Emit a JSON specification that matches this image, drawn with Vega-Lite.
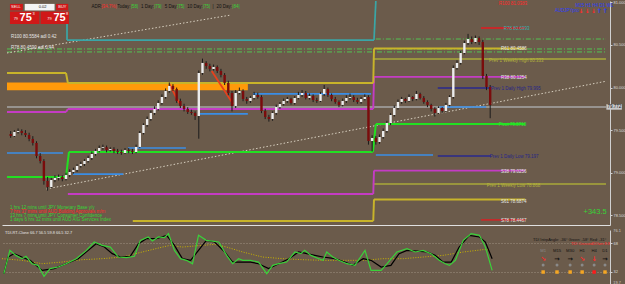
{
"$schema":"https://vega.github.io/schema/vega-lite/v6.json",
"background":"#6b5b4b",
"padding":0,
"spacing":4,
"config":{"view":{"stroke":null},
 "axis":{"title":null,"grid":false,"labelFont":"Liberation Sans","labelColor":"#dcdcdc","labelFontSize":4,"tickColor":"#d0d0d0","domainColor":"#d0d0d0","tickSize":2,"labelPadding":1},
 "axisX":{"labels":false,"ticks":false},
 "text":{"font":"Liberation Sans"}},
"datasets":{
"candles":[
{"i":1,"o":79.455,"h":79.49,"l":79.41,"c":79.432},{"i":2,"o":79.432,"h":79.5,"l":79.42,"c":79.479},{"i":3,"o":79.479,"h":79.52,"l":79.46,"c":79.49},{"i":4,"o":79.49,"h":79.51,"l":79.44,"c":79.467},{"i":5,"o":79.467,"h":79.5,"l":79.42,"c":79.443},{"i":6,"o":79.443,"h":79.47,"l":79.37,"c":79.397},{"i":7,"o":79.397,"h":79.43,"l":79.32,"c":79.35},{"i":8,"o":79.35,"h":79.37,"l":79.17,"c":79.197},{"i":9,"o":79.197,"h":79.23,"l":79.11,"c":79.138},{"i":10,"o":79.138,"h":79.16,"l":78.86,"c":78.904},
{"i":11,"o":78.904,"h":78.95,"l":78.79,"c":78.833},{"i":12,"o":78.833,"h":78.94,"l":78.82,"c":78.915},{"i":13,"o":78.915,"h":78.97,"l":78.89,"c":78.939},{"i":14,"o":78.939,"h":78.98,"l":78.91,"c":78.951},{"i":15,"o":78.951,"h":78.97,"l":78.9,"c":78.927},{"i":16,"o":78.927,"h":79.0,"l":78.91,"c":78.974},{"i":17,"o":78.974,"h":79.04,"l":78.95,"c":79.009},{"i":18,"o":79.009,"h":79.06,"l":78.99,"c":79.033},{"i":19,"o":79.033,"h":79.1,"l":79.01,"c":79.08},{"i":20,"o":79.08,"h":79.13,"l":79.06,"c":79.103},
{"i":21,"o":79.103,"h":79.16,"l":79.08,"c":79.138},{"i":22,"o":79.138,"h":79.2,"l":79.12,"c":79.173},{"i":23,"o":79.173,"h":79.25,"l":79.15,"c":79.22},{"i":24,"o":79.22,"h":79.28,"l":79.2,"c":79.256},{"i":25,"o":79.256,"h":79.32,"l":79.24,"c":79.291},{"i":26,"o":79.291,"h":79.33,"l":79.27,"c":79.3},{"i":27,"o":79.3,"h":79.32,"l":79.24,"c":79.267},{"i":28,"o":79.267,"h":79.3,"l":79.25,"c":79.279},{"i":29,"o":79.279,"h":79.3,"l":79.23,"c":79.256},{"i":30,"o":79.256,"h":79.28,"l":79.22,"c":79.244},
{"i":31,"o":79.244,"h":79.27,"l":79.21,"c":79.232},{"i":32,"o":79.232,"h":79.29,"l":79.22,"c":79.267},{"i":33,"o":79.267,"h":79.29,"l":79.23,"c":79.256},{"i":34,"o":79.256,"h":79.28,"l":79.22,"c":79.244},{"i":35,"o":79.244,"h":79.33,"l":79.23,"c":79.303},{"i":36,"o":79.303,"h":79.49,"l":79.29,"c":79.467},{"i":37,"o":79.467,"h":79.58,"l":79.45,"c":79.561},{"i":38,"o":79.561,"h":79.66,"l":79.54,"c":79.631},{"i":39,"o":79.631,"h":79.73,"l":79.61,"c":79.702},{"i":40,"o":79.702,"h":79.78,"l":79.68,"c":79.749},
{"i":41,"o":79.749,"h":79.85,"l":79.73,"c":79.819},{"i":42,"o":79.819,"h":79.92,"l":79.8,"c":79.889},{"i":43,"o":79.889,"h":79.99,"l":79.87,"c":79.96},{"i":44,"o":79.96,"h":80.06,"l":79.94,"c":80.019},{"i":45,"o":80.019,"h":80.04,"l":79.96,"c":79.983},{"i":46,"o":79.983,"h":80.0,"l":79.82,"c":79.843},{"i":47,"o":79.843,"h":79.87,"l":79.76,"c":79.784},{"i":48,"o":79.784,"h":79.81,"l":79.72,"c":79.749},{"i":49,"o":79.749,"h":79.77,"l":79.69,"c":79.713},{"i":50,"o":79.713,"h":79.74,"l":79.68,"c":79.702},
{"i":51,"o":79.702,"h":79.72,"l":79.62,"c":79.666},{"i":52,"o":79.666,"h":80.2,"l":79.4,"c":80.171},{"i":53,"o":80.171,"h":80.34,"l":80.15,"c":80.289},{"i":54,"o":80.289,"h":80.31,"l":80.22,"c":80.253},{"i":55,"o":80.253,"h":80.28,"l":80.19,"c":80.218},{"i":56,"o":80.218,"h":80.27,"l":80.2,"c":80.242},{"i":57,"o":80.242,"h":80.26,"l":80.17,"c":80.195},{"i":58,"o":80.195,"h":80.22,"l":80.12,"c":80.148},{"i":59,"o":80.148,"h":80.17,"l":80.03,"c":80.054},{"i":60,"o":80.054,"h":80.08,"l":79.91,"c":79.936},
{"i":61,"o":79.936,"h":79.96,"l":79.72,"c":79.784},{"i":62,"o":79.784,"h":79.97,"l":79.76,"c":79.936},{"i":63,"o":79.936,"h":80.0,"l":79.92,"c":79.96},{"i":64,"o":79.96,"h":79.98,"l":79.84,"c":79.866},{"i":65,"o":79.866,"h":79.89,"l":79.81,"c":79.843},{"i":66,"o":79.843,"h":79.9,"l":79.82,"c":79.878},{"i":67,"o":79.878,"h":79.95,"l":79.86,"c":79.913},{"i":68,"o":79.913,"h":79.94,"l":79.87,"c":79.889},{"i":69,"o":79.889,"h":79.91,"l":79.7,"c":79.725},{"i":70,"o":79.725,"h":79.75,"l":79.63,"c":79.655},
{"i":71,"o":79.655,"h":79.68,"l":79.6,"c":79.631},{"i":72,"o":79.631,"h":79.72,"l":79.61,"c":79.702},{"i":73,"o":79.702,"h":79.8,"l":79.68,"c":79.772},{"i":74,"o":79.772,"h":79.83,"l":79.75,"c":79.807},{"i":75,"o":79.807,"h":79.87,"l":79.79,"c":79.843},{"i":76,"o":79.843,"h":79.89,"l":79.82,"c":79.866},{"i":77,"o":79.866,"h":79.88,"l":79.8,"c":79.819},{"i":78,"o":79.819,"h":79.9,"l":79.8,"c":79.878},{"i":79,"o":79.878,"h":79.95,"l":79.86,"c":79.913},{"i":80,"o":79.913,"h":79.97,"l":79.89,"c":79.936},
{"i":81,"o":79.936,"h":79.96,"l":79.86,"c":79.878},{"i":82,"o":79.878,"h":79.93,"l":79.86,"c":79.901},{"i":83,"o":79.901,"h":79.92,"l":79.83,"c":79.854},{"i":84,"o":79.854,"h":79.88,"l":79.82,"c":79.843},{"i":85,"o":79.843,"h":79.95,"l":79.83,"c":79.925},{"i":86,"o":79.925,"h":80.03,"l":79.9,"c":79.983},{"i":87,"o":79.983,"h":80.0,"l":79.89,"c":79.913},{"i":88,"o":79.913,"h":79.93,"l":79.84,"c":79.866},{"i":89,"o":79.866,"h":79.89,"l":79.81,"c":79.831},{"i":90,"o":79.831,"h":79.85,"l":79.77,"c":79.796},
{"i":91,"o":79.796,"h":79.87,"l":79.78,"c":79.843},{"i":92,"o":79.843,"h":79.91,"l":79.82,"c":79.878},{"i":93,"o":79.878,"h":79.93,"l":79.86,"c":79.889},{"i":94,"o":79.889,"h":79.91,"l":79.83,"c":79.854},{"i":95,"o":79.854,"h":79.88,"l":79.81,"c":79.831},{"i":96,"o":79.831,"h":79.89,"l":79.81,"c":79.866},{"i":97,"o":79.866,"h":79.92,"l":79.85,"c":79.889},{"i":98,"o":79.889,"h":79.91,"l":79.33,"c":79.373},{"i":99,"o":79.373,"h":79.44,"l":79.25,"c":79.408},{"i":100,"o":79.408,"h":79.43,"l":79.33,"c":79.361},
{"i":101,"o":79.361,"h":79.45,"l":79.34,"c":79.42},{"i":102,"o":79.42,"h":79.52,"l":79.4,"c":79.49},{"i":103,"o":79.49,"h":79.61,"l":79.47,"c":79.584},{"i":104,"o":79.584,"h":79.7,"l":79.56,"c":79.678},{"i":105,"o":79.678,"h":79.79,"l":79.66,"c":79.76},{"i":106,"o":79.76,"h":79.86,"l":79.74,"c":79.831},{"i":107,"o":79.831,"h":79.89,"l":79.81,"c":79.866},{"i":108,"o":79.866,"h":79.88,"l":79.82,"c":79.843},{"i":109,"o":79.843,"h":79.92,"l":79.83,"c":79.889},{"i":110,"o":79.889,"h":79.9,"l":79.84,"c":79.866},
{"i":111,"o":79.866,"h":79.96,"l":79.85,"c":79.925},{"i":112,"o":79.925,"h":79.94,"l":79.86,"c":79.878},{"i":113,"o":79.878,"h":79.9,"l":79.81,"c":79.831},{"i":114,"o":79.831,"h":79.85,"l":79.77,"c":79.796},{"i":115,"o":79.796,"h":79.81,"l":79.72,"c":79.749},{"i":116,"o":79.749,"h":79.77,"l":79.66,"c":79.702},{"i":117,"o":79.702,"h":79.78,"l":79.69,"c":79.76},{"i":118,"o":79.76,"h":79.77,"l":79.7,"c":79.725},{"i":119,"o":79.725,"h":79.82,"l":79.71,"c":79.796},{"i":120,"o":79.796,"h":79.91,"l":79.78,"c":79.889},
{"i":121,"o":79.889,"h":80.26,"l":79.87,"c":80.23},{"i":122,"o":80.23,"h":80.32,"l":80.21,"c":80.289},{"i":123,"o":80.289,"h":80.43,"l":80.27,"c":80.406},{"i":124,"o":80.406,"h":80.55,"l":80.39,"c":80.523},{"i":125,"o":80.523,"h":80.63,"l":80.5,"c":80.57},{"i":126,"o":80.57,"h":80.6,"l":80.51,"c":80.535},{"i":127,"o":80.535,"h":80.61,"l":80.52,"c":80.582},{"i":128,"o":80.582,"h":80.6,"l":80.5,"c":80.535},{"i":129,"o":80.535,"h":80.56,"l":80.1,"c":80.136},{"i":130,"o":80.136,"h":80.16,"l":79.97,"c":80.007},
{"i":131,"o":80.007,"h":80.03,"l":79.64,"c":79.796}],
"band":[{"x":0,"x2":65.3,"y":80.058,"y2":79.968}],
"dash":[{"x":0,"x2":162.4,"y":80.453},{"x":0,"x2":162.4,"y":80.418},{"x":100,"x2":162.4,"y":80.57}],
"trend":[{"x":0,"x2":60.8,"y":80.406,"y2":80.852},{"x":10.7,"x2":162.4,"y":78.81,"y2":80.074}],
"segs":[
{"s":"grey","x":0,"x2":162.4,"y":79.772,"y2":79.772},
{"s":"olive","x":99.2,"x2":162.4,"y":80.335,"y2":80.335},
{"s":"olive","x":99.2,"x2":162.4,"y":78.868,"y2":78.868},
{"s":"blue","x":0,"x2":15.2,"y":79.232,"y2":79.232},
{"s":"blue","x":17.9,"x2":31.5,"y":78.985,"y2":78.985},
{"s":"blue","x":32.8,"x2":48.5,"y":79.291,"y2":79.291},
{"s":"blue","x":52,"x2":65.3,"y":79.692,"y2":79.692},
{"s":"blue","x":66.7,"x2":98.7,"y":79.925,"y2":79.925},
{"s":"blue","x":100,"x2":115.5,"y":79.209,"y2":79.209},
{"s":"blue","x":117.3,"x2":129.9,"y":79.772,"y2":79.772},
{"s":"navy","x":116.8,"x2":131.2,"y":79.995,"y2":79.995},
{"s":"navy","x":116.8,"x2":131.2,"y":79.197,"y2":79.197},
{"s":"teal","x":16.27,"x2":16.27,"y":80.746,"y2":80.558},
{"s":"teal","x":16.27,"x2":99.5,"y":80.558,"y2":80.558},
{"s":"teal","x":99.5,"x2":100,"y":80.558,"y2":81.016},
{"s":"mag","x":0,"x2":16,"y":79.713,"y2":79.713},
{"s":"mag","x":16,"x2":16.5,"y":79.713,"y2":79.749},
{"s":"mag","x":16.5,"x2":99.3,"y":79.749,"y2":79.749},
{"s":"mag","x":99.3,"x2":99.5,"y":79.749,"y2":80.1254},
{"s":"mag","x":99.5,"x2":140.5,"y":80.1254,"y2":80.1254},
{"s":"mag","x":16.5,"x2":99.3,"y":78.751,"y2":78.751},
{"s":"mag","x":99.3,"x2":99.5,"y":78.751,"y2":79.0256},
{"s":"mag","x":99.5,"x2":140.5,"y":79.0256,"y2":79.0256},
{"s":"yel","x":0,"x2":16,"y":80.171,"y2":80.171},
{"s":"yel","x":16,"x2":16.5,"y":80.171,"y2":80.054},
{"s":"yel","x":16.5,"x2":99.3,"y":80.054,"y2":80.054},
{"s":"yel","x":99.3,"x2":99.5,"y":80.054,"y2":80.4586},
{"s":"yel","x":99.5,"x2":140.5,"y":80.4586,"y2":80.4586},
{"s":"yel","x":34.1,"x2":99.3,"y":78.434,"y2":78.434},
{"s":"yel","x":99.3,"x2":99.5,"y":78.434,"y2":78.6874},
{"s":"yel","x":99.5,"x2":140.5,"y":78.6874,"y2":78.6874},
{"s":"red","x":128.5,"x2":140.5,"y":80.6993,"y2":80.6993},
{"s":"red","x":128.5,"x2":140.5,"y":78.4467,"y2":78.4467},
{"s":"rtr","x":55.5,"x2":61.3,"y":80.195,"y2":79.808},
{"s":"rtr","x":44,"x2":46.7,"y":80.042,"y2":79.819},
{"s":"piv","x":0,"x2":16,"y":78.951,"y2":78.951},
{"s":"piv","x":16,"x2":16.8,"y":78.951,"y2":79.244},
{"s":"piv","x":16.8,"x2":99.2,"y":79.244,"y2":79.244},
{"s":"piv","x":99.2,"x2":100,"y":79.244,"y2":79.571},
{"s":"piv","x":100,"x2":140.5,"y":79.571,"y2":79.571}],
"lvl":[
{"x":133.3,"y":80.985,"t":"R100 81.0383","k":"r"},
{"x":134.7,"y":80.688,"t":"R78 80.6993","k":"teal"},
{"x":133.9,"y":80.447,"t":"R61 80.4586","k":"w"},
{"x":130.7,"y":80.312,"t":"Prev 1 Weekly High 80.333","k":"olive"},
{"x":133.9,"y":80.112,"t":"R38 80.1254","k":"w"},
{"x":131.2,"y":79.983,"t":"Prev 1 Daily High 79.995","k":"navy"},
{"x":133.3,"y":79.561,"t":"Pivot 79.5710","k":"piv"},
{"x":130.9,"y":79.185,"t":"Prev 1 Daily Low 79.197","k":"navy"},
{"x":133.9,"y":79.009,"t":"S38 79.0256","k":"w"},
{"x":130.1,"y":78.845,"t":"Prev 1 Weekly Low 78.868","k":"olive"},
{"x":133.9,"y":78.657,"t":"S61 78.6874","k":"w"},
{"x":133.9,"y":78.434,"t":"S78 78.4467","k":"w"},
{"x":1.1,"y":80.594,"t":"R100 80.5584 adl 0.42","k":"w"},
{"x":1.1,"y":80.465,"t":"R78 80.4590 adl 0.44","k":"w"},
{"x":22.9,"y":80.946,"t":"ADR:","k":"blk"},
{"x":25.6,"y":80.946,"t":"|34.7%|","k":"r"},
{"x":29.9,"y":80.946,"t":"Today:","k":"blk"},
{"x":33.6,"y":80.946,"t":"|58|","k":"g"},
{"x":36.3,"y":80.946,"t":"1 Day:","k":"blk"},
{"x":39.9,"y":80.946,"t":"|79|","k":"g"},
{"x":42.8,"y":80.946,"t":"5 Day:","k":"blk"},
{"x":46.1,"y":80.946,"t":"|75|","k":"g"},
{"x":48.9,"y":80.946,"t":"10 Day:","k":"blk"},
{"x":53.1,"y":80.946,"t":"|75|","k":"g"},
{"x":55.7,"y":80.946,"t":"|","k":"blk"},
{"x":56.8,"y":80.946,"t":"20 Day:","k":"blk"},
{"x":61.1,"y":80.946,"t":"|84|","k":"g"},
{"x":154.1,"y":80.962,"t":"M15 H1 H4 D1 W1","k":"db"},
{"x":148.6,"y":80.895,"t":"AUDJPYpro","k":"db"},
{"x":0.8,"y":78.587,"t":"1 hrs 12 mins until JPY Monetary Base y/y","k":"g"},
{"x":0.8,"y":78.534,"t":"7 hrs 37 mins until AUD Building Approvals m/m","k":"r"},
{"x":0.8,"y":78.487,"t":"13 hrs 7 mins until JPY Consumer Confidence","k":"g"},
{"x":0.8,"y":78.44,"t":"1 days 6 hrs 32 mins until AUD AIG Services Index","k":"g"},
{"x":162.8,"y":79.772,"t":"79.772","k":"blk"}],
"arrows":[{"x":155.6,"y":80.897,"t":"↓","k":"r"},{"x":157.3,"y":80.897,"t":"↓","k":"r"},{"x":159.0,"y":80.897,"t":"↓","k":"r"},{"x":160.6,"y":80.897,"t":"↑","k":"db"},{"x":162.2,"y":80.897,"t":"↑","k":"db"}],
"boxes":[
{"x":0.8,"x2":4.3,"y":80.982,"y2":80.905,"k":"wr"},
{"x":4.8,"x2":12.9,"y":80.982,"y2":80.905,"k":"wb"},
{"x":13.3,"x2":16.6,"y":80.982,"y2":80.905,"k":"wr"},
{"x":0.8,"x2":8.8,"y":80.893,"y2":80.746,"k":"wr"},
{"x":9.1,"x2":16.8,"y":80.893,"y2":80.746,"k":"wr"},
{"x":162.5,"x2":166.7,"y":79.805,"y2":79.74,"k":"lg"}],
"wsmall":[{"x":1.1,"y":80.944,"t":"SELL","k":"w"},{"x":8.6,"y":80.944,"t":"0.02","k":"blk"},{"x":13.9,"y":80.944,"t":"BUY","k":"w"},{"x":1.8,"y":80.8,"t":"79","k":"w"},{"x":10.9,"y":80.8,"t":"79","k":"w"},{"x":6.9,"y":80.862,"t":"3","k":"w"},{"x":16.0,"y":80.862,"t":"8","k":"w"}],
"wbig":[{"x":3.4,"y":80.817,"t":"75"},{"x":12.6,"y":80.817,"t":"75"}],
"pnl":[{"x":156.3,"y":78.54,"t":"+343.5"}],
"tdi":[
{"i":0.5,"v":29.4,"s":"g"},{"i":2.1,"v":59.1,"s":"g"},{"i":3.7,"v":52.7,"s":"g"},{"i":5.3,"v":48.5,"s":"g"},{"i":6.4,"v":51.5,"s":"g"},{"i":8.0,"v":42.1,"s":"g"},{"i":9.6,"v":40.0,"s":"g"},{"i":11.2,"v":26.0,"s":"g"},{"i":12.8,"v":35.8,"s":"g"},{"i":15.0,"v":37.9,"s":"g"},{"i":17.1,"v":42.1,"s":"g"},{"i":19.8,"v":48.5,"s":"g"},{"i":22.5,"v":59.1,"s":"g"},{"i":24.6,"v":69.7,"s":"g"},{"i":26.7,"v":65.5,"s":"g"},{"i":28.9,"v":63.3,"s":"g"},{"i":31.0,"v":50.6,"s":"g"},{"i":33.2,"v":49.8,"s":"g"},{"i":35.3,"v":51.5,"s":"g"},{"i":36.9,"v":71.8,"s":"g"},{"i":39.0,"v":76.1,"s":"g"},{"i":40.1,"v":71.0,"s":"g"},{"i":41.7,"v":76.1,"s":"g"},{"i":43.3,"v":75.2,"s":"g"},{"i":44.4,"v":80.3,"s":"g"},{"i":46.0,"v":59.1,"s":"g"},{"i":47.6,"v":48.5,"s":"g"},{"i":49.2,"v":46.4,"s":"g"},{"i":50.8,"v":42.1,"s":"g"},{"i":52.4,"v":78.2,"s":"g"},{"i":54.5,"v":71.8,"s":"g"},{"i":57.8,"v":69.7,"s":"g"},{"i":59.9,"v":52.7,"s":"g"},{"i":61.5,"v":42.1,"s":"g"},{"i":63.1,"v":48.5,"s":"g"},{"i":64.2,"v":46.4,"s":"g"},{"i":66.3,"v":46.4,"s":"g"},{"i":68.4,"v":44.2,"s":"g"},{"i":70.6,"v":29.4,"s":"g"},{"i":72.2,"v":40.0,"s":"g"},{"i":73.8,"v":42.1,"s":"g"},{"i":75.9,"v":44.2,"s":"g"},{"i":78.1,"v":57.0,"s":"g"},{"i":79.7,"v":54.9,"s":"g"},{"i":80.7,"v":59.1,"s":"g"},{"i":82.4,"v":52.7,"s":"g"},{"i":84.5,"v":48.5,"s":"g"},{"i":85.6,"v":46.4,"s":"g"},{"i":86.6,"v":57.0,"s":"g"},{"i":88.2,"v":50.6,"s":"g"},{"i":89.8,"v":46.4,"s":"g"},{"i":92.0,"v":42.1,"s":"g"},{"i":94.1,"v":40.0,"s":"g"},{"i":96.8,"v":59.1,"s":"g"},{"i":98.4,"v":33.6,"s":"g"},{"i":101.1,"v":33.6,"s":"g"},{"i":102.7,"v":42.1,"s":"g"},{"i":105.3,"v":57.0,"s":"g"},{"i":108.0,"v":61.2,"s":"g"},{"i":110.2,"v":57.0,"s":"g"},{"i":112.3,"v":59.1,"s":"g"},{"i":114.4,"v":54.9,"s":"g"},{"i":116.6,"v":46.4,"s":"g"},{"i":118.2,"v":42.1,"s":"g"},{"i":119.3,"v":40.0,"s":"g"},{"i":120.9,"v":46.4,"s":"g"},{"i":123.0,"v":71.8,"s":"g"},{"i":125.1,"v":80.3,"s":"g"},{"i":127.3,"v":78.2,"s":"g"},{"i":128.9,"v":63.3,"s":"g"},{"i":130.7,"v":33.6,"s":"g"},
{"i":0.5,"v":29.4,"s":"b"},{"i":1.6,"v":50.6,"s":"b"},{"i":3.2,"v":54.9,"s":"b"},{"i":5.3,"v":50.6,"s":"b"},{"i":7.5,"v":46.4,"s":"b"},{"i":10.7,"v":33.6,"s":"b"},{"i":13.9,"v":35.8,"s":"b"},{"i":17.1,"v":42.1,"s":"b"},{"i":20.3,"v":48.5,"s":"b"},{"i":23.0,"v":59.1,"s":"b"},{"i":25.1,"v":67.6,"s":"b"},{"i":27.3,"v":63.3,"s":"b"},{"i":29.4,"v":54.9,"s":"b"},{"i":31.6,"v":50.6,"s":"b"},{"i":34.2,"v":51.5,"s":"b"},{"i":36.4,"v":67.6,"s":"b"},{"i":38.5,"v":74.0,"s":"b"},{"i":41.2,"v":74.0,"s":"b"},{"i":43.9,"v":78.2,"s":"b"},{"i":46.0,"v":65.5,"s":"b"},{"i":48.1,"v":48.5,"s":"b"},{"i":50.3,"v":46.4,"s":"b"},{"i":52.4,"v":59.1,"s":"b"},{"i":54.5,"v":71.8,"s":"b"},{"i":56.7,"v":69.7,"s":"b"},{"i":59.4,"v":57.0,"s":"b"},{"i":61.5,"v":44.2,"s":"b"},{"i":64.2,"v":44.2,"s":"b"},{"i":66.3,"v":44.2,"s":"b"},{"i":68.4,"v":42.1,"s":"b"},{"i":71.1,"v":35.8,"s":"b"},{"i":73.8,"v":42.1,"s":"b"},{"i":76.5,"v":48.5,"s":"b"},{"i":79.1,"v":57.0,"s":"b"},{"i":81.3,"v":54.9,"s":"b"},{"i":83.4,"v":52.7,"s":"b"},{"i":85.6,"v":50.6,"s":"b"},{"i":88.8,"v":48.5,"s":"b"},{"i":91.4,"v":44.2,"s":"b"},{"i":93.6,"v":40.0,"s":"b"},{"i":96.3,"v":48.5,"s":"b"},{"i":98.4,"v":46.4,"s":"b"},{"i":101.1,"v":37.9,"s":"b"},{"i":103.7,"v":40.0,"s":"b"},{"i":105.9,"v":54.9,"s":"b"},{"i":108.0,"v":59.1,"s":"b"},{"i":110.7,"v":58.2,"s":"b"},{"i":113.4,"v":57.0,"s":"b"},{"i":115.5,"v":52.7,"s":"b"},{"i":117.6,"v":44.2,"s":"b"},{"i":119.8,"v":44.2,"s":"b"},{"i":121.9,"v":63.3,"s":"b"},{"i":124.6,"v":78.2,"s":"b"},{"i":127.3,"v":76.1,"s":"b"},{"i":128.9,"v":69.7,"s":"b"},{"i":130.7,"v":48.5,"s":"b"},
{"i":0,"v":48.5,"s":"y"},{"i":5.3,"v":46.4,"s":"y"},{"i":10.7,"v":42.1,"s":"y"},{"i":16.0,"v":44.2,"s":"y"},{"i":21.4,"v":47.2,"s":"y"},{"i":26.7,"v":48.5,"s":"y"},{"i":32.1,"v":50.6,"s":"y"},{"i":37.4,"v":57.0,"s":"y"},{"i":42.8,"v":63.3,"s":"y"},{"i":44.9,"v":65.5,"s":"y"},{"i":48.1,"v":63.3,"s":"y"},{"i":53.5,"v":65.5,"s":"y"},{"i":56.7,"v":66.7,"s":"y"},{"i":59.9,"v":63.3,"s":"y"},{"i":64.2,"v":57.0,"s":"y"},{"i":69.5,"v":50.6,"s":"y"},{"i":74.9,"v":48.5,"s":"y"},{"i":80.2,"v":47.2,"s":"y"},{"i":85.6,"v":46.4,"s":"y"},{"i":90.9,"v":46.4,"s":"y"},{"i":96.3,"v":46.4,"s":"y"},{"i":101.6,"v":48.5,"s":"y"},{"i":107.0,"v":48.5,"s":"y"},{"i":112.3,"v":50.6,"s":"y"},{"i":117.6,"v":52.7,"s":"y"},{"i":123.0,"v":57.0,"s":"y"},{"i":128.3,"v":60.0,"s":"y"},{"i":130.0,"v":60.0,"s":"y"}],
"ltxt":[
{"x":0.8,"y":81.2,"t":"TDI-RT-Clone 66.7 56.5 59.8 66.5 32.7","k":"w"},
{"x":141.6,"y":72.3,"t":"TDI IntrpAngle: -36° Green: -58° Red: -31°","k":"blk"},
{"x":151.7,"y":67.2,"t":"TDI CrossedDOwn 8.8","k":"r"},
{"x":163.0,"y":83.5,"t":"76.1","k":"lg"},
{"x":163.0,"y":17.5,"t":"19.7","k":"lg"}],
"dlab":[{"x":144.3,"y":58.3,"t":"M1","k":"dg"},{"x":148,"y":58.3,"t":"M15","k":"blk"},{"x":151.5,"y":58.3,"t":"M30","k":"blk"},{"x":154.7,"y":58.3,"t":"H1","k":"blk"},{"x":157.9,"y":58.3,"t":"H4","k":"blk"},{"x":160.8,"y":58.3,"t":"D1","k":"blk"}],
"darr":[{"x":144.3,"y":48.1,"t":"↘","k":"r"},{"x":148,"y":48.1,"t":"→","k":"blk"},{"x":151.5,"y":48.1,"t":"→","k":"blk"},{"x":154.7,"y":48.1,"t":"↘","k":"r"},{"x":157.9,"y":48.1,"t":"↓","k":"r"},{"x":160.8,"y":48.1,"t":"→","k":"blk"}],
"dcirc":[{"x":144.3,"y":40.4,"k":"dg"},{"x":148,"y":40.4,"k":"dg"},{"x":151.5,"y":40.4,"k":"dg"},{"x":154.7,"y":40.4,"k":"dg"},{"x":157.9,"y":40.4,"k":"dg"},{"x":160.8,"y":40.4,"k":"dg"}],
"dsq":[{"x":144.3,"y":31.5,"k":"or"},{"x":148,"y":31.5,"k":"or"},{"x":151.5,"y":31.5,"k":"or"},{"x":154.7,"y":31.5,"k":"or"},{"x":157.9,"y":31.5,"k":"r"},{"x":160.8,"y":31.5,"k":"or"}]
},
"vconcat":[
{"width":608,"height":224,
 "resolve":{"scale":{"color":"independent"}},
 "layer":[
  {"data":{"name":"band"},"mark":{"type":"rect","color":"#ff9a0a"},
   "encoding":{"x":{"field":"x","type":"quantitative","scale":{"domain":[0,162.13],"nice":false,"zero":false},"axis":{"orient":"bottom","labels":false,"ticks":false,"domainColor":"#e0e0e0"}},"x2":{"field":"x2"},
    "y":{"field":"y","type":"quantitative","scale":{"domain":[78.387,81.016],"nice":false,"zero":false},"axis":{"orient":"right","format":".3f","values":[78.5,78.625,78.75,78.875,79,79.125,79.25,79.375,79.5,79.625,79.75,79.875,80,80.125,80.25,80.375,80.5,80.625,80.75,80.875,81]}},"y2":{"field":"y2"}}},
  {"data":{"name":"dash"},"mark":{"type":"rule","color":"#52c452","strokeDash":[5,2,1,2],"strokeWidth":1},
   "encoding":{"x":{"field":"x","type":"quantitative"},"x2":{"field":"x2"},"y":{"field":"y","type":"quantitative"}}},
  {"data":{"name":"trend"},"mark":{"type":"rule","color":"#d8d0c0","strokeDash":[1.5,2],"strokeWidth":1},
   "encoding":{"x":{"field":"x","type":"quantitative"},"x2":{"field":"x2"},"y":{"field":"y","type":"quantitative"},"y2":{"field":"y2"}}},
  {"data":{"name":"segs"},"mark":{"type":"rule"},
   "encoding":{"x":{"field":"x","type":"quantitative"},"x2":{"field":"x2"},"y":{"field":"y","type":"quantitative"},"y2":{"field":"y2"},
    "color":{"field":"s","type":"nominal","legend":null,"scale":{"domain":["piv","yel","mag","red","rtr","teal","blue","navy","olive","grey"],"range":["#22e022","#c8b42a","#c43cc4","#c42a2a","#e8401c","#3aa6a6","#3a8ee6","#28288c","#a8a838","#a6a6a6"]}},
    "strokeWidth":{"field":"s","type":"nominal","legend":null,"scale":{"domain":["piv","yel","mag","red","rtr","teal","blue","navy","olive","grey"],"range":[2,1.5,1,1,1,1,1.3,1,1,1]}}}},
  {"data":{"name":"candles"},"mark":{"type":"rule","color":"#1c1c1c","strokeWidth":1},
   "encoding":{"x":{"field":"i","type":"quantitative"},"y":{"field":"l","type":"quantitative"},"y2":{"field":"h"}}},
  {"data":{"name":"candles"},"mark":{"type":"bar","width":2.4},
   "encoding":{"x":{"field":"i","type":"quantitative"},"y":{"field":"o","type":"quantitative"},"y2":{"field":"c"},
    "color":{"condition":{"test":"datum.c >= datum.o","value":"#ececec"},"value":"#7a0c0c"}}},
  {"data":{"name":"boxes"},"mark":{"type":"rect"},
   "encoding":{"x":{"field":"x","type":"quantitative"},"x2":{"field":"x2"},"y":{"field":"y","type":"quantitative"},"y2":{"field":"y2"},
    "color":{"field":"k","type":"nominal","legend":null,"scale":{"domain":["wr","wb","lg"],"range":["#d01818","#f4f4f4","#c8c8c8"]}}}},
  {"data":{"name":"lvl"},"mark":{"type":"text","align":"left","baseline":"middle","fontSize":4.5},
   "encoding":{"x":{"field":"x","type":"quantitative"},"y":{"field":"y","type":"quantitative"},"text":{"field":"t"},
    "color":{"field":"k","type":"nominal","legend":null,"scale":{"domain":["piv","teal","navy","olive","w","g","r","db","blk","lg"],"range":["#2ee82e","#3ab0b0","#26268a","#b4b43c","#e6e6e6","#36d436","#ff2a2a","#2a3cff","#111111","#c8c8c8"]}}}},
  {"data":{"name":"arrows"},"mark":{"type":"text","align":"center","baseline":"middle","fontSize":6,"fontWeight":"bold","font":"DejaVu Sans"},
   "encoding":{"x":{"field":"x","type":"quantitative"},"y":{"field":"y","type":"quantitative"},"text":{"field":"t"},
    "color":{"field":"k","type":"nominal","legend":null,"scale":{"domain":["r","db"],"range":["#ff2a2a","#2a3cff"]}}}},
  {"data":{"name":"wsmall"},"mark":{"type":"text","align":"left","baseline":"middle","fontSize":4},
   "encoding":{"x":{"field":"x","type":"quantitative"},"y":{"field":"y","type":"quantitative"},"text":{"field":"t"},
    "color":{"field":"k","type":"nominal","legend":null,"scale":{"domain":["w","blk"],"range":["#f4f4f4","#111111"]}}}},
  {"data":{"name":"wbig"},"mark":{"type":"text","align":"left","baseline":"middle","fontSize":11,"fontWeight":"bold","color":"#ffffff"},
   "encoding":{"x":{"field":"x","type":"quantitative"},"y":{"field":"y","type":"quantitative"},"text":{"field":"t"}}},
  {"data":{"name":"pnl"},"mark":{"type":"text","align":"left","baseline":"middle","fontSize":7.5,"color":"#36d436"},
   "encoding":{"x":{"field":"x","type":"quantitative"},"y":{"field":"y","type":"quantitative"},"text":{"field":"t"}}}
 ]},
{"width":608,"height":55,
 "resolve":{"scale":{"color":"independent"}},
 "layer":[
  {"data":{"name":"tdi"},"transform":[{"filter":"datum.s == 'y'"}],"mark":{"type":"line","color":"#c8b400","strokeDash":[1,1.5],"strokeWidth":1},
   "encoding":{"x":{"field":"i","type":"quantitative","scale":{"domain":[0,162.13],"nice":false,"zero":false},"axis":{"orient":"bottom","labels":false,"ticks":false,"domainColor":"#9a9a9a"}},
    "y":{"field":"v","type":"quantitative","scale":{"domain":[15,85],"nice":false,"zero":false},"axis":{"orient":"right","values":[32,50,68],"format":"d","grid":true,"gridDash":[1,2],"gridColor":"#a09282"}}}},
  {"data":{"name":"tdi"},"transform":[{"filter":"datum.s == 'b'"}],"mark":{"type":"line","color":"#000000","strokeWidth":1.2},
   "encoding":{"x":{"field":"i","type":"quantitative"},"y":{"field":"v","type":"quantitative"}}},
  {"data":{"name":"tdi"},"transform":[{"filter":"datum.s == 'g'"}],"mark":{"type":"line","color":"#3ad13a","strokeWidth":1.2},
   "encoding":{"x":{"field":"i","type":"quantitative"},"y":{"field":"v","type":"quantitative"}}},
  {"data":{"name":"ltxt"},"mark":{"type":"text","align":"left","baseline":"middle","fontSize":3.9},
   "encoding":{"x":{"field":"x","type":"quantitative"},"y":{"field":"y","type":"quantitative"},"text":{"field":"t"},
    "color":{"field":"k","type":"nominal","legend":null,"scale":{"domain":["w","r","blk","lg"],"range":["#e6e6e6","#ff2a2a","#111111","#c8c8c8"]}}}},
  {"data":{"name":"dlab"},"mark":{"type":"text","align":"center","baseline":"middle","fontSize":4.2},
   "encoding":{"x":{"field":"x","type":"quantitative"},"y":{"field":"y","type":"quantitative"},"text":{"field":"t"},
    "color":{"field":"k","type":"nominal","legend":null,"scale":{"domain":["blk","dg"],"range":["#111111","#8a8a8a"]}}}},
  {"data":{"name":"darr"},"mark":{"type":"text","align":"center","baseline":"middle","fontSize":6.5,"fontWeight":"bold","font":"DejaVu Sans"},
   "encoding":{"x":{"field":"x","type":"quantitative"},"y":{"field":"y","type":"quantitative"},"text":{"field":"t"},
    "color":{"field":"k","type":"nominal","legend":null,"scale":{"domain":["r","blk"],"range":["#ff2a2a","#111111"]}}}},
  {"data":{"name":"dcirc"},"mark":{"type":"point","shape":"circle","filled":true,"size":9,"opacity":1,"color":"#8a8a8a"},
   "encoding":{"x":{"field":"x","type":"quantitative"},"y":{"field":"y","type":"quantitative"}}},
  {"data":{"name":"dsq"},"mark":{"type":"point","shape":"square","filled":true,"size":12,"opacity":1},
   "encoding":{"x":{"field":"x","type":"quantitative"},"y":{"field":"y","type":"quantitative"},
    "color":{"field":"k","type":"nominal","legend":null,"scale":{"domain":["or","r"],"range":["#f5a623","#ff1a1a"]}}}}
 ]}
],
"resolve":{"scale":{"x":"independent","y":"independent"}}
}
